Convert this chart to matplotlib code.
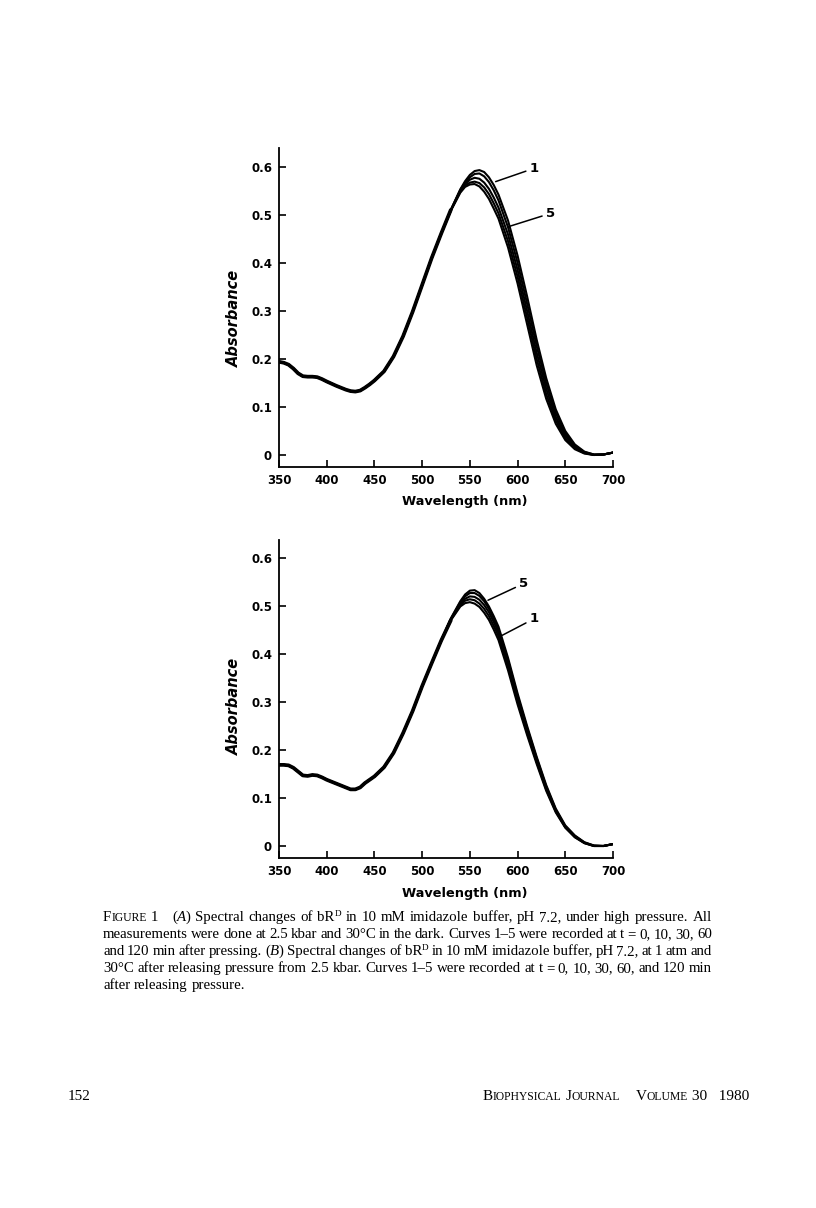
import matplotlib
matplotlib.use("Agg")
import matplotlib.pyplot as plt
from matplotlib.transforms import IdentityTransform

# ---------------- data ----------------
# shared wavelength grid (nm)
wl_left = [350, 355, 360, 365, 370, 375, 380, 385, 390, 395, 400, 410, 420, 425,
           430, 435, 440, 445, 450, 460, 470, 480, 490, 500, 510, 520]
wl_right = [530, 540, 545, 550, 555, 560, 565, 570, 575, 580, 590, 600, 610, 620,
            630, 640, 650, 660, 670, 680, 690, 700]

# Panel A (under high pressure) - common part 350-520 nm
a_left = [0.194, 0.192, 0.188, 0.180, 0.170, 0.164, 0.163, 0.163, 0.162, 0.158,
          0.153, 0.144, 0.136, 0.133, 0.132, 0.134, 0.140, 0.147, 0.155, 0.174,
          0.205, 0.247, 0.298, 0.354, 0.410, 0.461]
a_curve1 = [0.510, 0.553, 0.570, 0.583, 0.591, 0.593, 0.589, 0.578, 0.562, 0.542,
            0.488, 0.415, 0.330, 0.240, 0.160, 0.095, 0.050, 0.022, 0.007, 0.001, 0.001, 0.005]
a_curve2 = [0.510, 0.552, 0.567, 0.578, 0.585, 0.586, 0.580, 0.568, 0.551, 0.530,
            0.474, 0.400, 0.315, 0.227, 0.149, 0.087, 0.045, 0.019, 0.006, 0.001, 0.001, 0.005]
a_curve3 = [0.509, 0.550, 0.564, 0.573, 0.577, 0.575, 0.567, 0.554, 0.536, 0.515,
            0.459, 0.385, 0.300, 0.213, 0.138, 0.079, 0.040, 0.017, 0.005, 0.000, 0.001, 0.005]
a_curve4 = [0.509, 0.548, 0.561, 0.567, 0.569, 0.566, 0.557, 0.543, 0.524, 0.503,
            0.445, 0.371, 0.286, 0.200, 0.127, 0.072, 0.035, 0.014, 0.004, 0.000, 0.001, 0.005]
a_curve5 = [0.508, 0.546, 0.558, 0.563, 0.564, 0.559, 0.548, 0.533, 0.513, 0.492,
            0.432, 0.357, 0.272, 0.187, 0.117, 0.065, 0.031, 0.012, 0.003, 0.000, 0.001, 0.005]

# Panel B (after releasing pressure) - common part 350-520 nm
b_left = [0.169, 0.169, 0.168, 0.163, 0.155, 0.147, 0.146, 0.148, 0.147, 0.143,
          0.138, 0.130, 0.122, 0.118, 0.118, 0.122, 0.131, 0.138, 0.145, 0.164,
          0.194, 0.235, 0.281, 0.333, 0.381, 0.428]
b_curve1 = [0.470, 0.499, 0.506, 0.508, 0.505, 0.498, 0.486, 0.471, 0.451, 0.429,
            0.366, 0.295, 0.231, 0.171, 0.115, 0.070, 0.038, 0.018, 0.006, 0.000, 0.000, 0.004]
b_curve2 = [0.471, 0.502, 0.511, 0.514, 0.512, 0.505, 0.494, 0.479, 0.459, 0.437,
            0.373, 0.301, 0.236, 0.175, 0.118, 0.072, 0.039, 0.019, 0.006, 0.000, 0.000, 0.004]
b_curve3 = [0.472, 0.505, 0.515, 0.520, 0.519, 0.513, 0.502, 0.487, 0.467, 0.444,
            0.380, 0.307, 0.241, 0.179, 0.121, 0.074, 0.040, 0.020, 0.007, 0.000, 0.000, 0.004]
b_curve4 = [0.473, 0.508, 0.520, 0.527, 0.527, 0.521, 0.510, 0.494, 0.474, 0.451,
            0.387, 0.313, 0.246, 0.183, 0.124, 0.076, 0.041, 0.021, 0.007, 0.001, 0.000, 0.004]
b_curve5 = [0.474, 0.510, 0.524, 0.532, 0.533, 0.527, 0.515, 0.499, 0.479, 0.457,
            0.392, 0.318, 0.250, 0.186, 0.127, 0.078, 0.043, 0.022, 0.008, 0.001, 0.000, 0.004]

x_ticks = [350, 400, 450, 500, 550, 600, 650, 700]
x_ticklabels = ["350", "400", "450", "500", "550", "600", "650", "700"]
y_ticks = [0, 0.1, 0.2, 0.3, 0.4, 0.5, 0.6]
y_ticklabels = ["0", "0.1", "0.2", "0.3", "0.4", "0.5", "0.6"]
x_label = "Wavelength (nm)"
y_label = "Absorbance"

# ---------------- figure ----------------
W, H = 816, 1208
fig = plt.figure(figsize=(W / 100, H / 100), dpi=100)
fig.patch.set_facecolor("white")

TICKFONT = dict(family="DejaVu Sans", weight="bold", size=8.5)


def make_axes(rect_px, ylim, left_vals, curves, labels):
    x0, y_top, x1, y_bot = rect_px
    ax = fig.add_axes([x0 / W, 1 - y_bot / H, (x1 - x0) / W, (y_bot - y_top) / H])
    wl = wl_left + wl_right
    # the five curves coincide below ~525 nm and form one heavy trace
    ax.plot(wl_left + wl_right[:1], left_vals + [curves[0][len(wl_left)]],
            color="black", lw=2.7, solid_capstyle="round", solid_joinstyle="round")
    for c in curves:
        ax.plot(wl, c, color="black", lw=1.5, solid_capstyle="round", solid_joinstyle="round")
    ax.set_xlim(350, 700)
    ax.set_ylim(*ylim)
    for s in ("top", "right"):
        ax.spines[s].set_visible(False)
    for s in ("left", "bottom"):
        ax.spines[s].set_linewidth(1.3)
    ax.set_xticks(x_ticks)
    ax.set_xticklabels(x_ticklabels, fontdict=TICKFONT)
    ax.set_yticks(y_ticks)
    ax.set_yticklabels(y_ticklabels, fontdict=TICKFONT)
    ax.tick_params(axis="both", direction="in", length=5, width=1.2, pad=5)
    for text, xy, xyt in labels:
        ax.annotate(text, xy=xy, xytext=xyt, fontsize=9.5, fontweight="bold",
                    ha="left", va="center",
                    arrowprops=dict(arrowstyle="-", lw=1.1, color="black",
                                    shrinkA=1, shrinkB=0))
    return ax


a_curves = [a_left + c for c in (a_curve1, a_curve2, a_curve3, a_curve4, a_curve5)]
b_curves = [b_left + c for c in (b_curve1, b_curve2, b_curve3, b_curve4, b_curve5)]

ax1 = make_axes((279, 148, 613, 467), (-0.025, 0.639), a_left, a_curves,
                [("1", (577, 0.569), (613, 0.597)), ("5", (590, 0.475), (630, 0.503))])
ax2 = make_axes((279, 540, 613, 858), (-0.025, 0.6375), b_left, b_curves,
                [("5", (569, 0.512), (602, 0.547)), ("1", (583, 0.438), (613, 0.474))])

# axis labels
for yc_lab, yc_x in ((318, 502), (706, 893)):
    fig.text(234 / W, 1 - yc_lab / H, y_label, rotation=90, ha="center", va="center",
             family="DejaVu Sans", weight="bold", style="italic", size=10.5)
    fig.text(465 / W, 1 - yc_x / H, x_label, ha="center", va="center",
             family="DejaVu Sans", weight="bold", size=9.3)

# ---------------- caption (justified) ----------------
renderer = fig.canvas.get_renderer()
SERIF = "Liberation Serif"
CS = 10.7
R = dict(size=CS)
SC = dict(size=CS * 0.78)
IT = dict(size=CS, style="italic")
SUP = dict(size=CS * 0.62, dy=4.5)


def words(s):
    return [[(t, R)] for t in s.split()]


cap_lines = [
    [[("F", R), ("IGURE", SC)], [("1", R)], [("(", R), ("A", IT), (")", R)]]
    + words("Spectral changes of") + [[("bR", R), ("D", SUP)]]
    + words("in 10 mM imidazole buffer, pH 7.2, under high pressure. All"),
    words("measurements were done at 2.5 kbar and 30°C in the dark. Curves 1–5 were recorded at t = 0, 10, 30, 60"),
    words("and 120 min after pressing.") + [[("(", R), ("B", IT), (")", R)]]
    + words("Spectral changes of") + [[("bR", R), ("D", SUP)]]
    + words("in 10 mM imidazole buffer, pH 7.2, at 1 atm and"),
    words("30°C after releasing pressure from 2.5 kbar. Curves 1–5 were recorded at t = 0, 10, 30, 60, and 120 min"),
    words("after releasing pressure."),
]
cap_x0, cap_x1 = 103, 712
cap_base = [921, 938, 955, 972, 989]


def seg_w(txt, st):
    kw = {k: v for k, v in st.items() if k != "dy"}
    t = fig.text(0, 0, txt, transform=IdentityTransform(), family=SERIF, **kw)
    bb = t.get_window_extent(renderer)
    t.remove()
    return bb.width


def draw_seg(x, y, txt, st):
    kw = {k: v for k, v in st.items() if k != "dy"}
    fig.text(x, y + st.get("dy", 0), txt, transform=IdentityTransform(), family=SERIF,
             va="baseline", ha="left", **kw)


space_w = seg_w("a a", R) - seg_w("aa", R)
for i, (line, yb) in enumerate(zip(cap_lines, cap_base)):
    widths = [sum(seg_w(t, st) for t, st in word) for word in line]
    total = sum(widths)
    extra = 9 if i == 0 else 0
    if i < len(cap_lines) - 1:
        gap = (cap_x1 - cap_x0 - total - extra) / (len(line) - 1)
    else:
        gap = space_w
    x = cap_x0
    y = H - yb
    for wi, word in enumerate(line):
        for t, st in word:
            draw_seg(x, y, t, st)
            x += seg_w(t, st)
        if wi == 1 and i == 0:
            x += extra
        x += gap

# ---------------- footer ----------------
FS = 11
fy = H - 1100
fig.text(68, fy, "152", transform=IdentityTransform(), family=SERIF, size=FS, va="baseline")
foot = [("B", dict(size=FS)), ("IOPHYSICAL", dict(size=FS * 0.76)), (" ", dict(size=FS)),
        ("J", dict(size=FS)), ("OURNAL", dict(size=FS * 0.76)), ("    ", dict(size=FS)),
        ("V", dict(size=FS)), ("OLUME", dict(size=FS * 0.76)), (" 30   1980", dict(size=FS))]
fw = [seg_w(t.replace(" ", "\u00a0"), st) for t, st in foot]
x = 749 - sum(fw)
for (t, st), wd in zip(foot, fw):
    fig.text(x, fy, t.replace(" ", "\u00a0"), transform=IdentityTransform(), family=SERIF,
             va="baseline", **st)
    x += wd

fig.savefig("out.png", dpi=100, facecolor="white")
